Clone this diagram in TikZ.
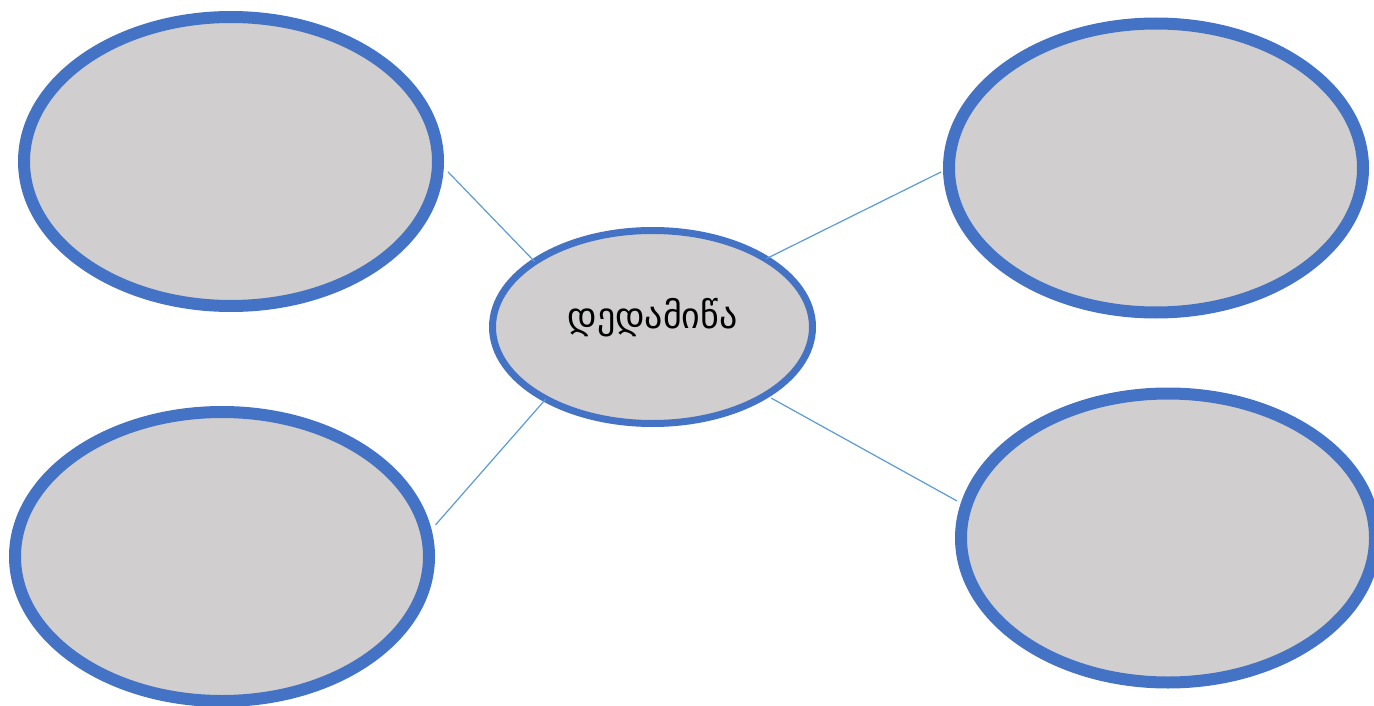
\documentclass[tikz,border=0pt]{standalone}
\usepackage{fontspec}
\newfontfamily\geofont{DejaVu Sans}
\usetikzlibrary{shapes.geometric}
\definecolor{ovalfill}{HTML}{D0CECE}
\definecolor{ovalline}{HTML}{4472C4}
\definecolor{linkline}{HTML}{5B9BD5}
\tikzset{
  bigoval/.style={ellipse, draw=ovalline, fill=ovalfill, line width=12pt,
    minimum width=414pt, minimum height=289pt, inner sep=0pt, outer sep=0pt},
  midoval/.style={ellipse, draw=ovalline, fill=ovalfill, line width=7pt,
    minimum width=320pt, minimum height=193pt, inner sep=0pt, outer sep=0pt,
    font=\geofont\fontsize{36}{40}\selectfont, text height=14pt, text depth=12pt},
  link/.style={draw=linkline, line width=1.2pt}
}
\begin{document}
\begin{tikzpicture}[x=1pt,y=-1pt]
\useasboundingbox (0,0) rectangle (1374,706);
\clip (0,0) rectangle (1374,706);
\node[bigoval] (tl) at (231,161.5) {};
\node[bigoval] (bl) at (222,556.5) {};
\node[bigoval] (tr) at (1156,168) {};
\node[bigoval] (br) at (1168,538) {};
\node[midoval] (c) at (652.5,327) {დედამიწა};
\draw[link, shorten <=14.3pt] (tl.0.9) -- (c.151.5);
\draw[link, shorten <=13.5pt] (bl.6) -- (c.214.5);
\draw[link, shorten >=8.9pt] (c.31.3) -- (tr.180.4);
\draw[link, shorten <=6.3pt, shorten >=10.7pt] (c.-31.6) -- (br.171);
\end{tikzpicture}
\end{document}
